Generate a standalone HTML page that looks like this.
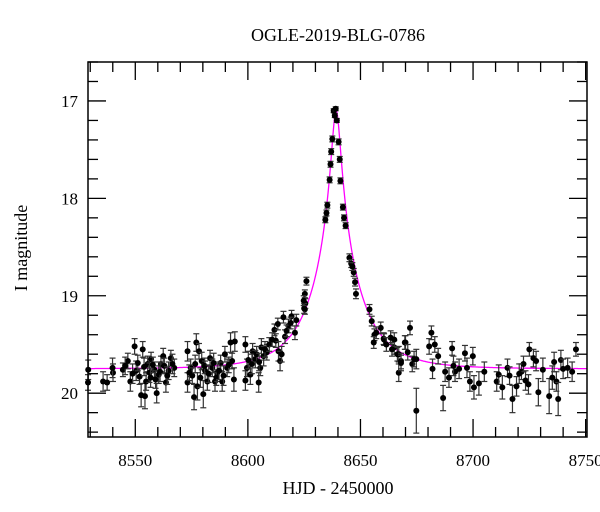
<!DOCTYPE html>
<html><head><meta charset="utf-8"><style>
html,body{margin:0;padding:0;background:#fff;}
svg{display:block;font-family:"Liberation Serif",serif;}
</style></head><body>
<svg id="chart" width="600" height="512" viewBox="0 0 600 512" xmlns="http://www.w3.org/2000/svg">
<text x="338" y="41" font-size="18" text-anchor="middle">OGLE-2019-BLG-0786</text>
<text x="338" y="494" font-size="18" text-anchor="middle">HJD - 2450000</text>
<text transform="translate(27,248) rotate(-90)" font-size="18" text-anchor="middle">I magnitude</text>
<g id="axes"></g><g id="model"></g><g id="points"></g>
<rect x="88" y="62" width="499" height="375" fill="none" stroke="#000" stroke-width="1.5"/>
</svg>
<script>
const xTicks=[8550,8600,8650,8700,8750];
const yTicks=[17,18,19,20];
const times=[8529.1,8529,8535.7,8537.5,8540.1,8539.9,8544.5,8546.7,8547.8,8549.7,8550.4,8551.1,8552.6,8553.3,8554.3,8554.8,8555.5,8556.3,8557,8558.5,8559.5,8560.4,8561.4,8562.4,8563.6,8564.8,8565.8,8567.3,8573.2,8573.2,8574.6,8575.3,8576.1,8577.1,8577.6,8578.3,8579.5,8580.2,8581,8582,8583.2,8584.2,8585.4,8586.4,8587.9,8588.6,8589.8,8590.8,8592.3,8593,8593.8,8594.2,8598.9,8598.9,8599.6,8601.1,8602.1,8603.3,8604.8,8605.5,8606,8607,8608.4,8611.8,8612.4,8613.3,8613.6,8614.3,8615,8615.8,8616.5,8618,8619.4,8620.9,8625.3,8626,8625.3,8625.5,8625,8634.4,8635.3,8636.3,8637,8637.5,8638.1,8639,8639.5,8640.3,8641.1,8642.2,8643.4,8645.1,8645.9,8647,8647.6,8648,8654,8655,8656.2,8655.9,8659,8660.3,8660.5,8663.4,8665,8665,8666.4,8667,8668,8667,8668,8669.7,8670,8672,8673,8673.8,8674.8,8674.8,8680.5,8681.5,8683,8682,8686.7,8687.6,8689.3,8690.7,8692,8693.8,8696.4,8697.3,8698.6,8699.9,8700.4,8702.6,8710.5,8711.4,8713,8715.3,8716.2,8717.5,8719.3,8721.5,8722.4,8723.3,8724.6,8725,8726.8,8728,8729,8733.8,8735.2,8736,8737,8737.8,8739,8740,8744,8745.7,
8545.5,8548.8,8551.9,8553.9,8556.8,8557.8,8559,8561,8562.9,8564.2,8566.5,8574,8576.6,8578.9,8580.8,8582.6,8584.8,8586,8587.2,8589.2,8591.5,8600.2,8601.8,8603.9,8605,8607.6,8609.5,8610.8,8617.2,8619,8621.5,8624.8,8634.9,8636.7,8638.6,8640.8,8642.7,8646.4,8657,8661.5,8664,8671,8684.5,8691.3,8705,8720.5,8731,8742];
const mags=[19.76,19.89,19.88,19.89,19.79,19.74,19.76,19.67,19.88,19.52,19.77,19.69,20.02,19.55,20.03,19.88,19.7,19.79,19.65,19.76,20.0,19.81,19.7,19.62,19.89,19.77,19.64,19.74,19.57,19.89,19.74,19.82,20.04,19.48,19.93,19.57,19.67,20.01,19.77,19.88,19.64,19.74,19.88,19.79,19.69,19.88,19.6,19.74,19.48,19.67,19.86,19.47,19.5,19.87,19.74,19.81,19.57,19.65,19.89,19.74,19.53,19.62,19.58,19.35,19.46,19.29,19.57,19.67,19.6,19.22,19.42,19.31,19.21,19.38,19.14,18.85,18.98,19.08,19.13,18.22,18.07,17.81,17.52,17.39,17.1,17.08,17.2,17.42,17.82,18.09,18.28,18.61,18.67,18.76,18.86,18.98,19.14,19.26,19.4,19.48,19.33,19.44,19.45,19.43,19.53,19.45,19.6,19.6,19.67,19.79,19.69,19.48,19.48,19.33,19.7,19.65,19.65,20.18,19.52,19.38,19.5,19.75,20.05,19.78,19.84,19.54,19.78,19.75,19.59,19.74,19.88,19.62,19.94,19.9,19.88,19.81,19.94,19.74,19.82,20.06,19.93,19.78,19.7,19.87,19.91,19.55,19.64,19.67,19.99,20.03,19.84,19.68,19.88,20.06,19.66,19.75,19.78,19.55,
19.72,19.8,19.83,19.73,19.84,19.71,19.86,19.78,19.72,19.82,19.7,19.79,19.7,19.84,19.72,19.8,19.69,19.84,19.77,19.82,19.71,19.66,19.7,19.6,19.68,19.55,19.5,19.45,19.36,19.28,19.25,19.05,18.15,17.65,17.15,17.6,18.2,18.7,19.38,19.5,19.55,19.58,19.62,19.72,19.78,19.8,19.76,19.74];
const errs=[0.1,0.08,0.1,0.08,0.09,0.1,0.07,0.08,0.1,0.08,0.1,0.08,0.12,0.08,0.13,0.09,0.08,0.1,0.07,0.08,0.1,0.09,0.08,0.08,0.1,0.09,0.08,0.09,0.1,0.1,0.09,0.08,0.13,0.09,0.14,0.08,0.09,0.14,0.1,0.09,0.08,0.09,0.1,0.09,0.08,0.1,0.08,0.09,0.1,0.08,0.12,0.1,0.08,0.1,0.09,0.1,0.08,0.09,0.1,0.08,0.09,0.1,0.08,0.06,0.07,0.06,0.1,0.1,0.08,0.06,0.07,0.07,0.06,0.07,0.05,0.04,0.04,0.05,0.05,0.03,0.03,0.03,0.03,0.03,0.02,0.02,0.02,0.03,0.03,0.03,0.03,0.04,0.04,0.04,0.04,0.05,0.05,0.05,0.06,0.06,0.06,0.06,0.06,0.07,0.07,0.07,0.07,0.08,0.08,0.09,0.08,0.07,0.07,0.07,0.08,0.08,0.1,0.23,0.08,0.07,0.08,0.1,0.13,0.1,0.1,0.07,0.1,0.1,0.08,0.1,0.1,0.09,0.12,0.12,0.1,0.1,0.12,0.09,0.09,0.14,0.1,0.08,0.08,0.1,0.1,0.07,0.09,0.1,0.14,0.18,0.12,0.1,0.1,0.17,0.1,0.1,0.1,0.07,
0.09,0.1,0.08,0.09,0.1,0.08,0.09,0.1,0.08,0.09,0.1,0.08,0.09,0.1,0.08,0.09,0.1,0.08,0.09,0.1,0.08,0.09,0.1,0.08,0.09,0.08,0.07,0.07,0.06,0.06,0.06,0.05,0.03,0.03,0.02,0.03,0.03,0.04,0.06,0.07,0.07,0.08,0.08,0.1,0.1,0.1,0.12,0.1];
const modelParams={t0:8639.2,u0:0.087,tE:21,base:19.75};

const NS="http://www.w3.org/2000/svg";
const L=88,R=587,T=62,B=437,xmin=8529,xmax=8750.6,ymin=16.6,ymax=20.45;
const xs=v=>L+(v-xmin)/(xmax-xmin)*(R-L);
const ys=v=>T+(v-ymin)/(ymax-ymin)*(B-T);
function mk(tag,attrs,parent){const e=document.createElementNS(NS,tag);for(const k in attrs)e.setAttribute(k,attrs[k]);parent.appendChild(e);return e;}
const ax=document.getElementById('axes');
for(let v=8530;v<=8750;v+=10){
  const major=v%50===0, len=major?18:10, x=xs(v);
  const t1=mk('line',{x1:x,x2:x,y1:B,y2:B-len,stroke:'#000','stroke-width':1.3},ax);
  
  
  const t2=mk('line',{x1:x,x2:x,y1:T,y2:T+len,stroke:'#000','stroke-width':1.3},ax);
  
  
}
xTicks.forEach(v=>{
  const t=mk('text',{x:xs(v),y:466,'font-size':17,'text-anchor':'middle'},ax);t.textContent=v;
  
  
});
for(let i=0;i<=19;i++){
  const v=16.6+i*0.2, major=Math.abs(v-Math.round(v))<1e-6, len=major?18:10, y=ys(v);
  if(y<T||y>B)continue;
  const t1=mk('line',{x1:L,x2:L+len,y1:y,y2:y,stroke:'#000','stroke-width':1.3},ax);
  
  
  const t2=mk('line',{x1:R,x2:R-len,y1:y,y2:y,stroke:'#000','stroke-width':1.3},ax);
  
  
}
yTicks.forEach(v=>{
  const t=mk('text',{x:78,y:ys(v)+6,'font-size':17,'text-anchor':'end'},ax);t.textContent=v;
  
  
});
const p=modelParams;let d='';
for(let px=L;px<=R;px+=0.5){
  const t=xmin+(px-L)/(R-L)*(xmax-xmin);
  const u=Math.sqrt(p.u0*p.u0+Math.pow((t-p.t0)/p.tE,2));
  const A=(u*u+2)/(u*Math.sqrt(u*u+4));
  const m=p.base-2.5*Math.log10(A);
  d+=(d?'L':'M')+px.toFixed(1)+','+ys(m).toFixed(1);
}
const mp=mk('path',{d:d,fill:'none',stroke:'#ff00ff','stroke-width':1.3},document.getElementById('model'));


const pg=document.getElementById('points');
times.forEach((t,i)=>{
  const x=xs(t),y=ys(mags[i]),y1=ys(mags[i]-errs[i]),y2=ys(mags[i]+errs[i]);
  const g=mk('g',{},pg);
  
  
  mk('line',{x1:x,x2:x,y1:y1,y2:y2,stroke:'#333','stroke-width':1.2},g);
  mk('line',{x1:x-3,x2:x+3,y1:y1,y2:y1,stroke:'#333','stroke-width':1.2},g);
  mk('line',{x1:x-3,x2:x+3,y1:y2,y2:y2,stroke:'#333','stroke-width':1.2},g);
  mk('circle',{cx:x,cy:y,r:3,fill:'#000'},g);
});
</script>
</body></html>
